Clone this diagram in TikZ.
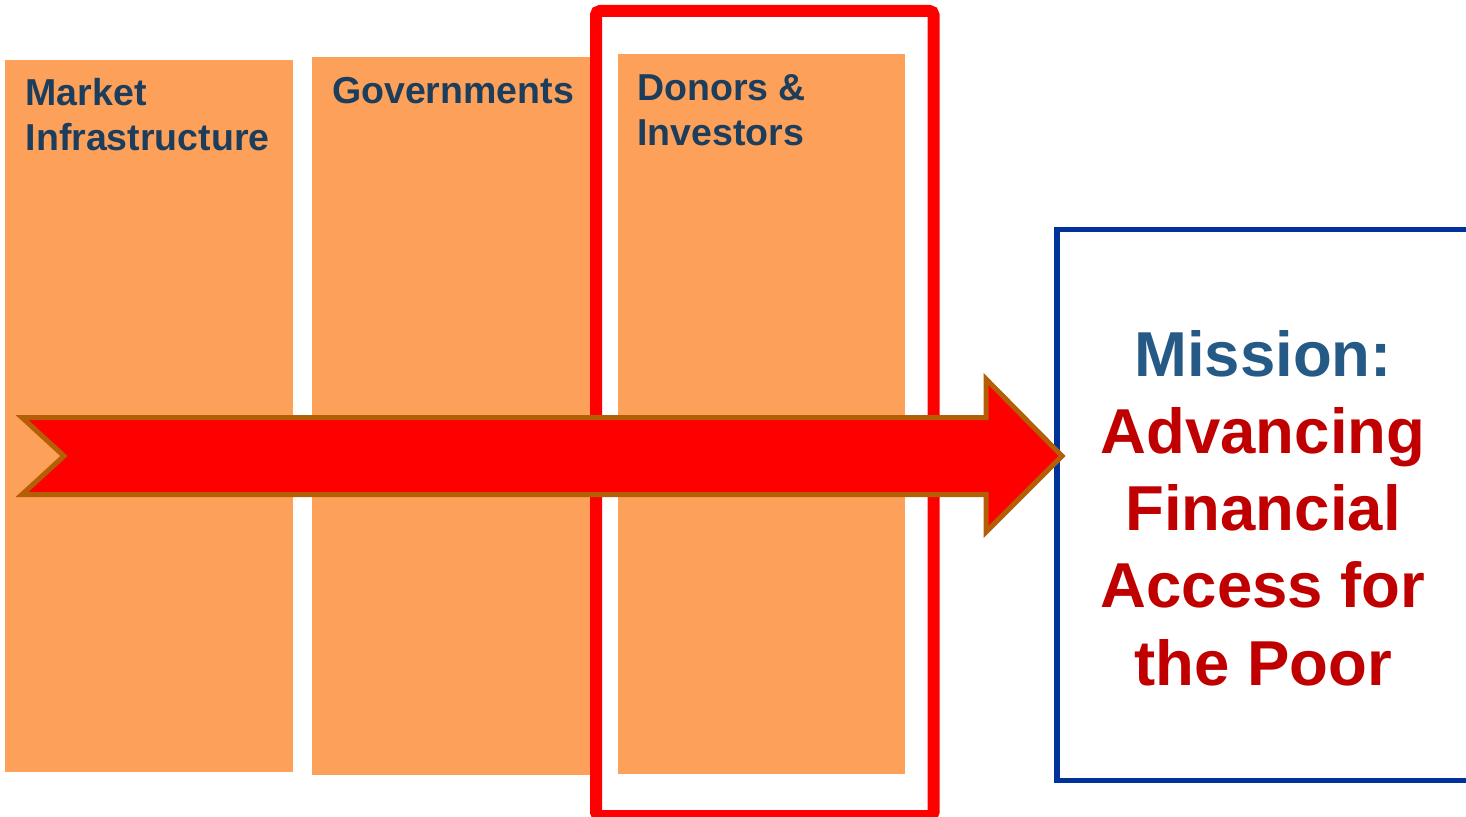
\documentclass[tikz,border=0pt]{standalone}
\usepackage{fontspec}
\setmainfont{Liberation Sans}
\definecolor{boxorange}{HTML}{FDA15A}
\definecolor{labelblue}{HTML}{1C3D5C}
\definecolor{missionblue}{HTML}{245A85}
\definecolor{missionred}{HTML}{C00000}
\definecolor{framered}{HTML}{FF0000}
\definecolor{frameblue}{HTML}{003399}
\definecolor{arrowedge}{HTML}{B45F06}
\begin{document}
\begin{tikzpicture}[x=1pt,y=-1pt,
  pillar/.style={fill=boxorange,draw=none},
  lbl/.style={anchor=base west,inner sep=0pt,text=labelblue,font=\fontsize{37.5}{45}\selectfont\bfseries},
  mline/.style={anchor=base,inner sep=0pt,font=\fontsize{63.5}{77}\selectfont\bfseries},
  bigarrow/.style={fill=framered,draw=arrowedge,line width=5pt,line join=miter}]
\useasboundingbox (0,0) rectangle (1466,816);
% pillars
\path[pillar] (5,60) rectangle (293,772) coordinate (p1);
\path[pillar] (312,57) rectangle (598,775) coordinate (p2);
\path[pillar] (618,54) rectangle (905,774) coordinate (p3);
% labels
\node[lbl] (l1a) at (25.5,105) {Market};
\node[lbl] (l1b) at (25.5,150) {Infrastructure};
\node[lbl] (l2) at (332,103) {Governments};
\node[lbl] (l3a) at (637,100) {Donors \&};
\node[lbl] (l3b) at (637,145) {Investors};
% highlight frame
\draw[framered,line width=12pt,rounded corners=4pt] (596,11) rectangle (933.5,816);
% mission box
\draw[frameblue,line width=5.5pt] (1480,229.5) -- (1057,229.5) -- (1057,780.5) -- (1480,780.5);
\node[mline,text=missionblue] (m1) at (1263,376) {Mission:};
\node[mline,text=missionred] (m2) at (1263,453) {Advancing};
\node[mline,text=missionred] (m3) at (1263,530) {Financial};
\node[mline,text=missionred] (m4) at (1263,607) {Access for};
\node[mline,text=missionred] (m5) at (1263,685) {the Poor};
% arrow
\draw[bigarrow] (22,417.5) -- (64,456) -- (22,494.5) -- (986,494.5) -- (986,532) -- (1062,456) -- (986,379) -- (986,417.5) -- cycle;
\end{tikzpicture}
\end{document}
